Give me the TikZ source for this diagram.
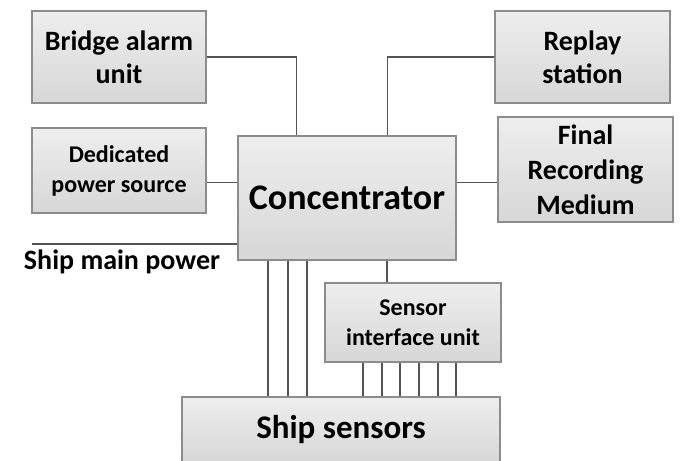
\documentclass[tikz,border=0pt]{standalone}
\usepackage{fontspec}
\setmainfont{Carlito}
\usetikzlibrary{calc}

\tikzset{
  unitbox/.style={draw={rgb,255:red,140;green,140;blue,140}, line width=1.2pt,
    top color={rgb,255:red,238;green,238;blue,238}, bottom color={rgb,255:red,215;green,215;blue,215},
    inner sep=0pt, align=center, font=\bfseries},
  wire/.style={draw={rgb,255:red,85;green,85;blue,85}, line width=1.1pt}
}

\begin{document}
\begin{tikzpicture}[x=1pt,y=1pt,yscale=-1]
\useasboundingbox (0,0) rectangle (681,461);

%Boxes
\node [unitbox, minimum width=174, minimum height=92, font=\bfseries\fontsize{28}{33}\selectfont] (bau) at (119,57) {Bridge alarm\\unit};
\node [unitbox, minimum width=174, minimum height=85, font=\bfseries\fontsize{24}{30}\selectfont] (dps) at (119,170.5) {Dedicated\\power source};
\node [unitbox, minimum width=218, minimum height=124, font=\bfseries\fontsize{36}{40}\selectfont] (conc) at (347,198) {Concentrator};
\node [unitbox, minimum width=175, minimum height=92, font=\bfseries\fontsize{28}{33}\selectfont] (rps) at (582.5,57) {Replay\\station};
\node [unitbox, minimum width=175, minimum height=105, font=\bfseries\fontsize{28}{35}\selectfont] (frm) at (585.5,169.5) {Final\\Recording\\Medium};
\node [unitbox, minimum width=176, minimum height=79, font=\bfseries\fontsize{24}{30}\selectfont] (siu) at (413,322.5) {Sensor\\interface unit};
\node [unitbox, minimum width=318, minimum height=66, font=\bfseries\fontsize{33}{38}\selectfont] (ss) at (341,430) {Ship sensors};
\node [font=\bfseries\fontsize{28}{32}\selectfont, inner sep=0pt] (smp) at (122,262) {Ship main power};

%Connectors
\draw [wire] (bau.east) -| ($(conc.north west)!0.27!(conc.north east)$);
\draw [wire] (rps.west) -| ($(conc.north west)!0.683!(conc.north east)$);
\coordinate (dpsout) at ($(dps.south east)!0.36!(dps.north east)$);
\draw [wire] (dpsout) -- (dpsout -| conc.west);
\coordinate (frmin) at ($(frm.north west)!0.62!(frm.south west)$);
\draw [wire] (frmin) -- (frmin -| conc.east);
\coordinate (mp) at (32,244);
\draw [wire] (mp) -- (mp -| conc.west);
\draw [wire] (387,0 |- conc.south) -- (387,0 |- siu.north);
\foreach \x in {268,288,307}
  \draw [wire] (\x,0 |- conc.south) -- (\x,0 |- ss.north);
\foreach \x in {363,382,400,419,438,456}
  \draw [wire] (\x,0 |- siu.south) -- (\x,0 |- ss.north);

\end{tikzpicture}
\end{document}
